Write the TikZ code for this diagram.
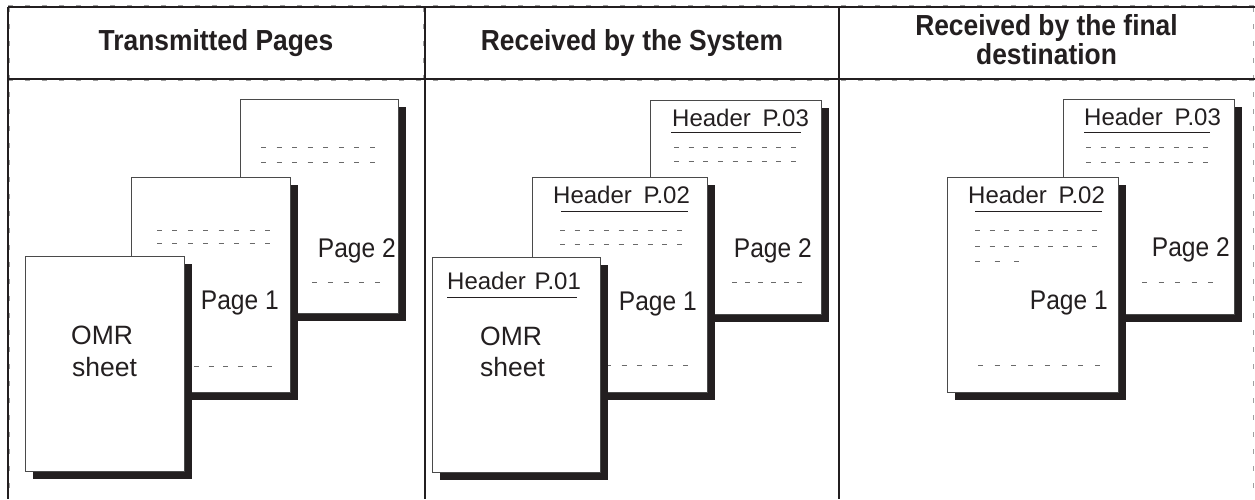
\documentclass[tikz,border=0pt]{standalone}
\usepackage{fontspec}
\setmainfont{Liberation Sans}
\newfontfamily\condfont[FakeStretch=0.91]{Liberation Sans}
\definecolor{ink}{HTML}{231F20}
\definecolor{pageedge}{HTML}{4A4A4A}
\definecolor{dashgray}{HTML}{6A6A6A}
\definecolor{framegray}{HTML}{A0A0A0}
\tikzset{
  rule/.style={draw=ink, line width=1.4pt},
  framedash/.style={draw=framegray, line width=1.1pt, dash pattern=on 5pt off 12pt},
  shadowbox/.style={fill=ink, draw=none},
  pagebox/.style={fill=white, draw=pageedge, line width=0.8pt},
  dashln/.style={draw=dashgray, line width=0.75pt},
  headtxt/.style={inner sep=0pt, align=center, text=ink, font=\condfont\bfseries\fontsize{29}{29}\selectfont},
  hdrtxt/.style={inner sep=0pt, anchor=base west, text=ink, font=\fontsize{24}{24}\selectfont},
  pgtxt/.style={inner sep=0pt, anchor=base east, text=ink, font=\condfont\fontsize{27}{27}\selectfont},
  omrtxt/.style={inner sep=0pt, anchor=base west, text=ink, font=\fontsize{26.5}{26.5}\selectfont},
  uline/.style={draw=ink, line width=0.9pt},
}
% n dashes of length 5 evenly spread from x1 to x2 at height y
\newcommand\dashrow[4]{%
  \pgfmathsetmacro\dstep{(#2-#1-5)/(#4-1)}%
  \foreach \k in {1,...,#4}{\draw[dashln] ({#1+(\k-1)*\dstep},#3) -- ++(5,0);}%
}
\newcommand\paper[4]{% x1 y1 x2 y2 with shadow
  \fill[shadowbox] (#1+8,#2+8) rectangle (#3+8,#4+8);
  \draw[pagebox] (#1,#2) rectangle (#3,#4);
}
\begin{document}
\begin{tikzpicture}[x=1pt,y=-1pt]
\useasboundingbox (0,0) rectangle (1255,499);
\fill[white] (0,0) rectangle (1255,499);

% ---------- frame ----------
\draw[framedash] (8,5.6) -- (1255,5.6);
\draw[framedash] (8,80.6) -- (1255,80.6);
\draw[framedash] (9.8,7) -- (9.8,499);
\draw[framedash] (423.4,7) -- (423.4,79);
\draw[framedash] (1253.5,7) -- (1253.5,499);
\draw[rule] (8,7) -- (1255,7);
\draw[rule] (8,79) -- (1255,79);
\draw[rule] (8,7) -- (8,499);
\draw[rule] (425,7) -- (425,499);
\draw[rule] (839,7) -- (839,499);

\node[headtxt, anchor=base] (h1) at (216,50) {Transmitted Pages};
\node[headtxt, anchor=base] (h2) at (632,50) {Received by the System};
\node[headtxt, anchor=center, font=\condfont\bfseries\fontsize{29}{29}\selectfont] (h3) at (1046.5,40) {Received by the final\\destination};

% ---------- column 1 ----------
\paper{240}{99}{398}{313}
\dashrow{261}{375}{147}{8}
\dashrow{261}{375}{162}{8}
\node[pgtxt] (a2) at (396,257) {Page 2};
\dashrow{312}{380}{282}{5}

\paper{131}{177}{290}{392}
\dashrow{157}{270}{230}{8}
\dashrow{157}{270}{243}{8}
\node[pgtxt] (a1) at (279,309) {Page 1};
\dashrow{150}{272}{366}{9}

\paper{25}{256}{184}{471}
\node[omrtxt] (a0a) at (71,344) {OMR};
\node[omrtxt] (a0b) at (72,376) {sheet};

% ---------- column 2 ----------
\paper{650}{100}{821}{314}
\node[hdrtxt] (b3h) at (672,126) {Header\hspace{5pt} P.03};
\draw[uline] (671,132) -- (801,132);
\dashrow{674}{796}{147}{9}
\dashrow{674}{796}{161}{9}
\node[pgtxt] (b2) at (812,257) {Page 2};
\dashrow{732}{802}{282}{6}

\paper{532}{177}{707}{392}
\node[hdrtxt] (b2h) at (553,203) {Header\hspace{5pt} P.02};
\draw[uline] (561,211) -- (688,211);
\dashrow{560}{682}{230}{9}
\dashrow{560}{682}{244}{9}
\node[pgtxt] (b1) at (697,310) {Page 1};
\dashrow{560}{688}{365}{9}

\paper{432}{257}{600}{472}
\node[hdrtxt] (b1h) at (447,289) {Header\hspace{2pt} P.01};
\draw[uline] (447,297) -- (577,297);
\node[omrtxt] (b0a) at (480,345) {OMR};
\node[omrtxt] (b0b) at (480,376) {sheet};

% ---------- column 3 ----------
\paper{1063}{99}{1234}{314}
\node[hdrtxt] (c3h) at (1084,125) {Header\hspace{5pt} P.03};
\draw[uline] (1084,132) -- (1210,132);
\dashrow{1086}{1208}{147}{9}
\dashrow{1086}{1208}{162}{9}
\node[pgtxt] (c2) at (1230,256) {Page 2};
\dashrow{1142}{1213}{282}{5}

\paper{947}{177}{1118}{392}
\node[hdrtxt] (c2h) at (968,203) {Header\hspace{5pt} P.02};
\draw[uline] (975,211) -- (1102,211);
\dashrow{975}{1097}{230}{9}
\dashrow{975}{1097}{246}{9}
\dashrow{975}{1019}{261}{3}
\node[pgtxt] (c1) at (1108,309) {Page 1};
\dashrow{978}{1100}{365}{8}
\end{tikzpicture}
\end{document}
